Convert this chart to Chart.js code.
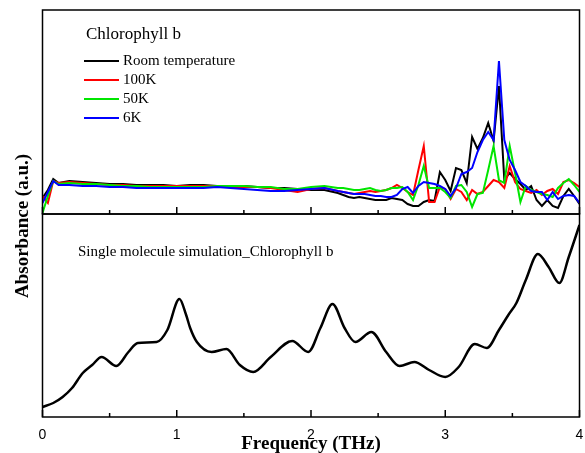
<!DOCTYPE html>
<html><head><meta charset="utf-8">
<script src="https://cdn.jsdelivr.net/npm/chart.js@4.4.1/dist/chart.umd.min.js"></script>
<style>
html,body{margin:0;padding:0;background:#fff;}
#wrap{position:relative;width:585px;height:453px;overflow:hidden;background:#fff;}
#wrap canvas{position:absolute;left:0;top:0;}
</style></head><body>
<div id="wrap"><canvas id="cTop" width="585" height="453"></canvas><canvas id="cBot" width="585" height="453"></canvas></div>
<script>
// ---------- data ----------
const xTickValues = [0, 0.5, 1, 1.5, 2, 2.5, 3, 3.5, 4];
const xTickLabels = ['0', '1', '2', '3', '4'];

const seriesNames = ['Room temperature', '100K', '50K', '6K'];

const expFreq = [0, 0.04, 0.08, 0.12, 0.2, 0.3, 0.4, 0.5, 0.6, 0.7, 0.8, 0.9, 1.0, 1.1, 1.2, 1.3, 1.4, 1.5, 1.6, 1.7, 1.8, 1.9, 2.0, 2.1, 2.2,
  2.24, 2.28, 2.32, 2.36, 2.40, 2.44, 2.48, 2.52, 2.56, 2.60,
  2.64, 2.68, 2.72, 2.76, 2.80, 2.84, 2.88, 2.92, 2.96, 3.00,
  3.04, 3.08, 3.12, 3.16, 3.20, 3.24, 3.28, 3.32, 3.36, 3.40,
  3.44, 3.48, 3.52, 3.56, 3.60, 3.64, 3.68, 3.72, 3.76, 3.80,
  3.84, 3.88, 3.92, 3.96, 4.00];

const roomTemp = [16, 24, 35, 31, 33, 32, 31, 30, 30, 29, 29, 29, 28, 29, 29, 28, 28, 28, 27, 26, 26, 25, 24, 24, 21,
  19, 17, 16, 17, 16, 15, 14, 14, 14, 16,
  15, 14, 10, 8, 8, 12, 14, 13, 42, 34,
  23, 46, 44, 31, 77, 65, 76, 91, 73, 128,
  34, 41, 35, 30, 24, 28, 14, 8, 14, 8,
  6, 18, 25, 18, 10];

const k100 = [18, 11, 33, 31, 32, 31, 30, 29, 29, 28, 28, 28, 28, 28, 28, 28, 27, 27, 27, 26, 24, 22, 25, 26, 23,
  22, 21, 20, 21, 22, 23, 22, 23, 24, 26,
  29, 26, 22, 19, 44, 68, 12, 12, 27, 25,
  15, 25, 22, 14, 24, 20, 22, 28, 34, 32,
  26, 48, 32, 25, 23, 21, 24, 19, 23, 25,
  20, 32, 34, 31, 27];

const k50 = [1, 18, 33, 30, 31, 30, 30, 29, 28, 28, 27, 27, 27, 27, 27, 28, 28, 28, 27, 27, 25, 25, 27, 28, 26,
  26, 25, 24, 24, 25, 26, 24, 23, 24, 26,
  26, 27, 22, 14, 29, 48, 26, 26, 26, 22,
  16, 28, 29, 22, 7, 20, 21, 44, 68, 34,
  31, 68, 41, 12, 28, 24, 22, 20, 19, 17,
  26, 31, 35, 29, 22];

const k6 = [11, 22, 33, 29, 29, 28, 28, 27, 27, 26, 26, 26, 26, 26, 26, 27, 26, 25, 24, 23, 23, 24, 25, 26, 23,
  22, 21, 20, 20, 20, 19, 18, 18, 17, 17,
  19, 25, 27, 21, 28, 32, 31, 30, 28, 25,
  18, 26, 40, 42, 46, 62, 74, 82, 74, 153,
  74, 54, 44, 32, 28, 23, 22, 22, 14, 22,
  15, 18, 19, 18, 11];

const simFreq = [0, 0.08, 0.15, 0.22, 0.30, 0.37, 0.44, 0.55, 0.64, 0.71, 0.85, 0.93, 1.02, 1.07, 1.10, 1.15, 1.26, 1.37, 1.47, 1.57,
  1.70, 1.86, 1.98, 2.07, 2.16, 2.25, 2.33, 2.45, 2.56, 2.66, 2.77, 2.88, 3.00, 3.10, 3.22, 3.31, 3.40, 3.47, 3.53, 3.60,
  3.69, 3.77, 3.85, 3.92, 4.00];
const simValues = [10, 14, 20, 29, 44, 52, 60, 51, 65, 74, 75, 87, 118, 102, 89, 75, 65, 68, 52, 45,
  60, 76, 65, 89, 113, 89, 75, 85, 65, 51, 55, 47, 40, 50, 73, 69, 87, 102, 114, 137,
  163, 150, 134, 160, 192];

// ---------- helpers ----------
const pts = (xs, ys) => xs.map((x, i) => ({x, y: ys[i]}));
const SERIF = '"Liberation Serif", "Times New Roman", serif';
const SANS = '"Liberation Sans", Arial, sans-serif';

const framePlugin = {
  id: 'frame',
  afterDatasetsDraw(chart) {
    const {ctx, chartArea: a, scales} = chart;
    const x = scales.x;
    ctx.save();
    ctx.strokeStyle = '#000';
    ctx.lineWidth = 1.5;
    ctx.strokeRect(a.left, a.top, a.right - a.left, a.bottom - a.top);
    ctx.beginPath();
    xTickValues.forEach(t => {
      const px = x.getPixelForValue(t);
      const len = Number.isInteger(t) ? 7 : 4;
      ctx.moveTo(px, a.bottom);
      ctx.lineTo(px, a.bottom - len);
    });
    ctx.stroke();
    ctx.restore();
  }
};

const textPlugin = {
  id: 'texts',
  afterDraw(chart, args, opts) {
    const ctx = chart.ctx;
    ctx.save();
    ctx.fillStyle = '#000';
    (opts.items || []).forEach(it => {
      ctx.save();
      ctx.font = it.font;
      ctx.textAlign = it.align || 'left';
      ctx.textBaseline = 'middle';
      ctx.translate(it.x, it.y);
      if (it.rotate) ctx.rotate(it.rotate);
      ctx.fillText(it.text, 0, 0);
      ctx.restore();
    });
    if (opts.legend) {
      const L = opts.legend;
      chart.data.datasets.slice().sort((a, b) => a.legendIndex - b.legendIndex).forEach((ds, i) => {
        const y = L.y + i * L.dy;
        ctx.strokeStyle = ds.borderColor;
        ctx.lineWidth = 2;
        ctx.beginPath();
        ctx.moveTo(L.x, y);
        ctx.lineTo(L.x + L.len, y);
        ctx.stroke();
        ctx.font = L.font;
        ctx.textAlign = 'left';
        ctx.textBaseline = 'middle';
        ctx.fillStyle = '#000';
        ctx.fillText(ds.label, L.x + L.len + 4, y);
      });
    }
    ctx.restore();
  }
};

const colors = ['#000000', '#ff0000', '#00e600', '#0000ff'];
const seriesData = [roomTemp, k100, k50, k6];
const drawOrder = [4, 3, 2, 1];

new Chart(document.getElementById('cTop'), {
  type: 'line',
  data: {
    datasets: seriesData.map((vals, i) => ({
      label: seriesNames[i],
      legendIndex: i,
      data: pts(expFreq, vals),
      borderColor: colors[i],
      borderWidth: 2,
      pointRadius: 0,
      tension: 0,
      fill: false,
      order: drawOrder[i]
    }))
  },
  options: {
    responsive: false,
    animation: false,
    events: [],
    layout: {padding: {left: 42.5, right: 5.5, top: 10, bottom: 239}},
    scales: {
      x: {type: 'linear', display: false, min: 0, max: 4},
      y: {type: 'linear', display: false, min: 0, max: 204}
    },
    plugins: {
      legend: {display: false},
      tooltip: {enabled: false},
      texts: {
        items: [{text: 'Chlorophyll b', x: 86, y: 35, font: '17px ' + SERIF}],
        legend: {x: 84, y: 61, dy: 19, len: 35, font: '15px ' + SERIF}
      }
    }
  },
  plugins: [framePlugin, textPlugin]
});

new Chart(document.getElementById('cBot'), {
  type: 'line',
  data: {
    datasets: [{
      label: 'Single molecule simulation_Chlorophyll b',
      data: pts(simFreq, simValues),
      borderColor: '#000',
      borderWidth: 2.5,
      pointRadius: 0,
      cubicInterpolationMode: 'monotone',
      fill: false
    }]
  },
  options: {
    responsive: false,
    animation: false,
    events: [],
    layout: {padding: {left: 42.5, right: 5.5, top: 214, bottom: 0}},
    scales: {
      x: {
        type: 'linear', min: 0, max: 4, position: 'bottom',
        afterFit(s) { s.height = 36; s.paddingLeft = 0; s.paddingRight = 0; },
        grid: {display: false},
        border: {display: false},
        ticks: {
          stepSize: 1, padding: 2, color: '#000', maxRotation: 0,
          font: {family: SANS, size: 14},
          callback: v => (Number.isInteger(v) ? xTickLabels[v] : '')
        },
        title: {
          display: true, text: 'Frequency (THz)', color: '#000',
          font: {family: SERIF, size: 19, weight: 'bold', lineHeight: 1},
          padding: {top: 0, bottom: -1}
        }
      },
      y: {type: 'linear', display: false, min: 0, max: 203}
    },
    plugins: {
      legend: {display: false},
      tooltip: {enabled: false},
      texts: {
        items: [
          {text: 'Single molecule simulation_Chlorophyll b', x: 78, y: 252, font: '15px ' + SERIF},
          {text: 'Absorbance (a.u.)', x: 23, y: 226, font: 'bold 19px ' + SERIF, align: 'center', rotate: -Math.PI / 2}
        ]
      }
    }
  },
  plugins: [framePlugin, textPlugin]
});
</script>
</body></html>
